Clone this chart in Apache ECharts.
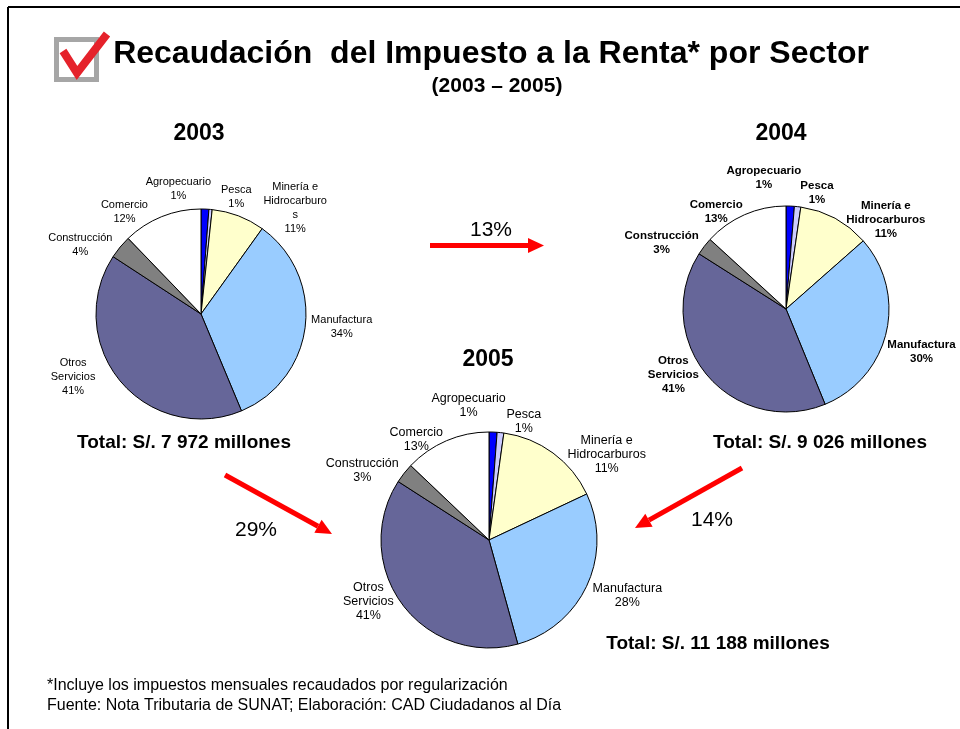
<!DOCTYPE html>
<html>
<head>
<meta charset="utf-8">
<script src="https://cdn.jsdelivr.net/npm/echarts@6/dist/echarts.min.js"></script>
<style>html,body{margin:0;background:#fff}#chart{width:960px;height:729px}</style>
</head>
<body>
<div id="chart"></div>
<script>
// sectores, en sentido horario desde las 12
const sectores = ['Agropecuario', 'Pesca', 'Minería e\nHidrocarburos', 'Manufactura', 'Otros\nServicios', 'Construcción', 'Comercio'];
const sectores2003 = ['Agropecuario', 'Pesca', 'Minería e\nHidrocarburo\ns', 'Manufactura', 'Otros\nServicios', 'Construcción', 'Comercio'];
const colores = ['#0000ff', '#ccccff', '#ffffcc', '#99ccff', '#666699', '#808080', '#ffffff'];

// tamaño de cada tajada como se ve en el gráfico (%)
const parte2003 = [1.2, 0.5, 8.2, 33.8, 40.5, 3.6, 12.2];
const parte2004 = [1.3, 1.0, 11.2, 30.3, 40.2, 2.8, 13.2];
const parte2005 = [1.2, 1.0, 15.8, 27.7, 38.4, 3.0, 12.9];

// porcentajes impresos en las etiquetas
const etiq2003 = ['1%', '1%', '11%', '34%', '41%', '4%', '12%'];
const etiq2004 = ['1%', '1%', '11%', '30%', '41%', '3%', '13%'];
const etiq2005 = ['1%', '1%', '11%', '28%', '41%', '3%', '13%'];

const anios = ['2003', '2004', '2005'];
const totales = ['Total: S/. 7 972 millones', 'Total: S/. 9 026 millones', 'Total: S/. 11 188 millones'];
const variaciones = ['13%', '29%', '14%'];

const FONT = 'Liberation Sans, Arial, sans-serif';

function torta(nombres, partes, etiquetas, cx, cy, r, fuente, ajustes) {
  const total = partes.reduce((a, b) => a + b, 0);
  const acum = [];
  partes.reduce((a, b, i) => { acum[i] = a; return a + b; }, 0);
  return {
    type: 'pie',
    center: [cx, cy],
    radius: r,
    startAngle: 90,
    clockwise: true,
    avoidLabelOverlap: false,
    silent: true,
    animation: false,
    emphasis: { disabled: true },
    data: partes.map((v, i) => ({ name: nombres[i], value: v, itemStyle: { color: colores[i] } })),
    itemStyle: { borderColor: '#000', borderWidth: 1 },
    label: {
      show: true,
      position: 'outside',
      overflow: 'none',
      formatter: p => p.name + '\n' + etiquetas[p.dataIndex],
      color: '#000',
      fontFamily: FONT,
      fontSize: fuente.size,
      fontWeight: fuente.weight,
      lineHeight: 14
    },
    labelLine: { show: false },
    // etiqueta pegada al borde de la tajada, con un pequeño ajuste tipo Excel
    labelLayout: p => {
      const i = p.dataIndex;
      const a = (acum[i] + partes[i] / 2) / total * 2 * Math.PI;
      const sx = Math.sin(a), sy = -Math.cos(a);
      const d = r + 4;
      const aj = ajustes[i];
      return {
        x: cx + d * sx + sx * p.labelRect.width / 2 + aj[0],
        y: cy + d * sy + sy * p.labelRect.height / 2 + aj[1],
        align: 'center',
        verticalAlign: 'middle'
      };
    }
  };
}

function texto(x, y, t, size, weight, align) {
  return {
    type: 'text', x: x, y: y, silent: true,
    style: { text: t, fill: '#000', font: (weight || 'normal') + ' ' + size + 'px ' + FONT,
      textAlign: align || 'center', textVerticalAlign: 'middle' }
  };
}

function flecha(x1, y1, x2, y2) {
  const dx = x2 - x1, dy = y2 - y1, len = Math.sqrt(dx * dx + dy * dy);
  const ux = dx / len, uy = dy / len, nx = -uy, ny = ux;
  const cab = 16, ancho = 7.5;
  const bx = x2 - ux * cab, by = y2 - uy * cab;
  return [
    { type: 'line', silent: true, shape: { x1: x1, y1: y1, x2: bx, y2: by }, style: { stroke: '#ff0000', lineWidth: 5 } },
    { type: 'polygon', silent: true, shape: { points: [[x2, y2], [bx + nx * ancho, by + ny * ancho], [bx - nx * ancho, by - ny * ancho]] }, style: { fill: '#ff0000' } }
  ];
}

const chart = echarts.init(document.getElementById('chart'), null, { renderer: 'canvas' });

const option = {
  backgroundColor: '#fff',
  animation: false,
  series: [
    torta(sectores2003, parte2003, etiq2003, 201, 314, 105, { size: 11, weight: 'normal' },
      [[-28, -2], [24, 5], [44, 22], [2, -1], [-27, -20], [-12, 9], [-27, 12]]),
    torta(sectores, parte2004, etiq2004, 786, 309, 103, { size: 11.5, weight: 'bold' },
      [[-28, -10], [17, 4], [30, 23], [-2, 15], [-11, -16], [-10, 7], [-16, 14]]),
    torta(sectores, parte2005, etiq2005, 489, 540, 108, { size: 12.5, weight: 'normal' },
      [[-26, -9], [21, 7], [28, 22], [5, 3], [-10, -17], [-10, 8], [-18, 15]])
  ],
  graphic: [
    // marco
    { type: 'line', silent: true, shape: { x1: 8, y1: 7, x2: 960, y2: 7 }, style: { stroke: '#000', lineWidth: 2 } },
    { type: 'line', silent: true, shape: { x1: 8, y1: 7, x2: 8, y2: 729 }, style: { stroke: '#000', lineWidth: 2 } },
    // casilla con check
    { type: 'rect', silent: true, shape: { x: 56.5, y: 39.5, width: 40, height: 40 }, style: { fill: 'none', stroke: '#a6a6a6', lineWidth: 5 } },
    { type: 'polyline', silent: true, shape: { points: [[63, 51], [77, 73], [107, 34]] }, style: { stroke: '#e5222b', lineWidth: 8, lineJoin: 'miter' } },
    texto(491, 54, 'Recaudación  del Impuesto a la Renta* por Sector', 32, 'bold'),
    texto(497, 86, '(2003 – 2005)', 21, 'bold'),
    texto(199, 134, anios[0], 23, 'bold'),
    texto(781, 134, anios[1], 23, 'bold'),
    texto(488, 360, anios[2], 23, 'bold'),
    texto(184, 443, totales[0], 19, 'bold'),
    texto(820, 443, totales[1], 19, 'bold'),
    texto(718, 644, totales[2], 19, 'bold'),
    ...flecha(430, 245.5, 544, 245.5),
    ...flecha(225, 475, 332, 534),
    ...flecha(742, 468, 635, 528),
    texto(491, 230, variaciones[0], 21),
    texto(256, 530, variaciones[1], 21),
    texto(712, 520, variaciones[2], 21),
    texto(47, 686, '*Incluye los impuestos mensuales recaudados por regularización', 16, 'normal', 'left'),
    texto(47, 706, 'Fuente: Nota Tributaria de SUNAT; Elaboración: CAD Ciudadanos al Día', 16, 'normal', 'left')
  ]
};

chart.setOption(option);
</script>
</body>
</html>
